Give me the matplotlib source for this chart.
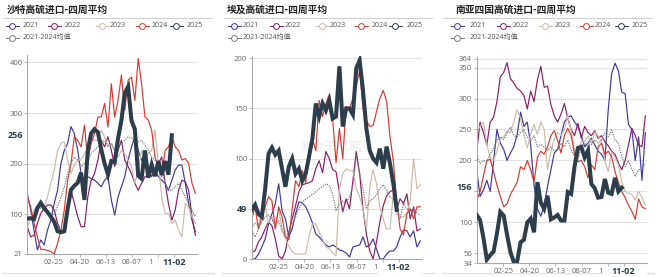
import numpy as np
import matplotlib
matplotlib.use("Agg")
import matplotlib.pyplot as plt
import matplotlib.transforms as mtrans
from matplotlib.patches import Rectangle

plt.rcParams["font.family"] = ["Open Sans", "Noto Sans CJK SC", "DejaVu Sans"]

W, H = 660, 277

# ── 数据 (周度, 第0周=1月初) ─────────────────────────────
series_names = ["2021", "2022", "2023", "2024", "2025", "2021-2024均值"]
tick_days = [55, 109, 163, 218, 273, 305]
tick_labels = ["02-25", "04-20", "06-13", "08-07", "10-01", "11-02"]

# 沙特
sa_2021 = [141, 108, 68, 29, 49, 39, 68, 88, 121, 147, 200, 226, 240, 273, 259, 226, 180, 167, 174, 170,
           167, 161, 154, 167, 174, 128, 98, 134, 154, 174, 207, 233, 253, 226, 207, 194, 180, 174, 187, 174,
           167, 161, 147, 167, 187, 197, 197, 161, 121, 88, 65]
sa_2022 = [75, 55, 58, 82, 101, 111, 118, 118, 108, 82, 65, 68, 111, 147, 121, 95, 75, 75, 134, 167,
           180, 207, 246, 233, 253, 226, 194, 226, 246, 207, 194, 180, 161, 147, 161, 174, 177, 177, 180, 200,
           213, 161, 121, 88, 108, 147, 167, 164, 147, 95, 58]
sa_2023 = [75, 91, 108, 114, 128, 114, 134, 161, 187, 226, 240, 243, 207, 180, 197, 207, 207, 220, 226, 253,
           246, 246, 266, 253, 233, 240, 226, 213, 226, 220, 207, 194, 161, 187, 226, 213, 220, 226, 266, 200,
           134, 101, 101, 82, 88, 68, 55, 121, 114, 95, 82]
sa_2024 = [134, 114, 82, 55, 30, 30, 28, 26, 21, 42, 68, 108, 167, 200, 253, 246, 233, 276, 207, 240,
           259, 292, 292, 319, 272, 358, 292, 325, 375, 305, 365, 371, 325, 408, 358, 292, 286, 266, 213, 193,
           174, 226, 233, 253, 233, 226, 207, 210, 200, 161, 141]
sa_2025 = [91, 92, 90, 112, 122, 112, 104, 95, 85, 66, 64, 66, 110, 148, 156, 162, 182, 128, 226, 260,
           268, 262, 228, 200, 178, 205, 203, 250, 285, 340, 352, 285, 268, 176, 170, 226, 172, 198, 175, 205,
           178, 205, 178, 256]
sa_mean = [95, 88, 96, 108, 112, 108, 102, 95, 100, 114, 134, 154, 180, 200, 213, 207, 194, 200, 207, 220,
           226, 233, 240, 246, 236, 240, 226, 233, 240, 246, 253, 250, 246, 243, 246, 236, 226, 213, 207, 200,
           187, 161, 147, 147, 154, 161, 147, 134, 121, 108, 95]

# 埃及
eg_2021 = [0, 0, 5, 12, 20, 35, 45, 55, 75, 48, 40, 22, 30, 45, 57, 56, 52, 45, 36, 25,
           22, 18, 14, 12, 14, 12, 9, 8, 6, 2, 12, 13, 14, 22, 12, 14, 20, 10, 0, 0,
           5, 8, 8, 12, 22, 29, 28, 22, 28, 12, 18]
eg_2022 = [7, 8, 17, 22, 30, 37, 33, 20, 3, 0, 8, 26, 40, 53, 67, 74, 75, 76, 78, 90,
           98, 86, 107, 100, 89, 87, 67, 47, 60, 50, 78, 107, 85, 50, 25, 8, 0, 17, 37, 53,
           63, 67, 69, 50, 60, 55, 65, 40, 52, 28, 30]
eg_2023 = [30, 36, 33, 48, 52, 36, 42, 30, 50, 30, 20, 13, 7, 5, 5, 5, 5, 22, 35, 35,
           27, 20, 12, 10, 6, 3, 70, 85, 90, 88, 88, 70, 62, 50, 30, 72, 89, 75, 52, 40,
           30, 30, 65, 52, 42, 42, 46, 58, 100, 70, 74]
eg_2024 = [39, 52, 30, 42, 52, 62, 58, 30, 52, 42, 22, 19, 50, 78, 72, 88, 76, 108, 120, 108,
           158, 142, 155, 164, 140, 96, 130, 100, 152, 150, 160, 172, 188, 150, 138, 132, 133, 147, 160, 168,
           157, 122, 97, 57, 30, 24, 45, 50, 40, 52, 52]
eg_2025 = [49, 54, 45, 42, 70, 105, 111, 104, 108, 90, 72, 92, 100, 85, 90, 78, 85, 102, 120, 155,
           142, 155, 148, 158, 140, 142, 192, 132, 150, 150, 144, 190, 198, 168, 130, 108, 100, 96, 110, 90,
           112, 95, 75, 49]
eg_mean = [28, 22, 30, 38, 42, 44, 40, 33, 38, 28, 22, 26, 33, 42, 50, 56, 60, 62, 64, 67,
           70, 72, 75, 73, 65, 48, 55, 58, 55, 62, 72, 103, 85, 70, 50, 58, 60, 64, 70, 74,
           68, 62, 60, 45, 40, 55, 50, 48, 50, 46, 43]

# 南亚四国
na_2021 = [185, 142, 152, 168, 150, 198, 250, 228, 218, 200, 212, 222, 242, 278, 255, 262, 225, 160, 122, 110,
           128, 158, 185, 212, 218, 240, 262, 270, 272, 262, 255, 240, 222, 228, 236, 225, 215, 210, 200, 282,
           340, 357, 345, 310, 308, 258, 250, 200, 238, 168, 245]
na_2022 = [215, 262, 245, 225, 262, 270, 295, 335, 342, 358, 332, 325, 316, 312, 305, 283, 312, 295, 330, 352,
           318, 320, 290, 272, 262, 275, 292, 268, 250, 240, 260, 236, 255, 245, 240, 248, 236, 240, 230, 224,
           215, 210, 196, 185, 200, 225, 252, 240, 225, 222, 272]
na_2023 = [246, 255, 262, 226, 205, 200, 215, 235, 238, 247, 245, 262, 282, 268, 242, 220, 242, 258, 242, 262,
           250, 185, 215, 235, 245, 240, 250, 272, 248, 218, 205, 232, 230, 240, 228, 246, 240, 230, 198, 182,
           214, 205, 193, 166, 150, 147, 145, 136, 150, 140, 128]
na_2024 = [135, 150, 175, 200, 202, 182, 160, 142, 125, 130, 145, 155, 165, 190, 185, 200, 185, 165, 205, 215,
           210, 222, 240, 248, 232, 212, 240, 252, 240, 210, 198, 200, 190, 172, 193, 185, 222, 228, 210, 215,
           206, 182, 165, 150, 140, 128, 118, 105, 138, 125, 122]
na_2025 = [112, 104, 75, 40, 47, 53, 82, 117, 111, 80, 52, 36, 37, 68, 72, 100, 106, 84, 165, 132,
           122, 143, 105, 108, 112, 103, 103, 149, 146, 190, 220, 222, 205, 216, 162, 155, 140, 141, 170, 148,
           146, 172, 150, 156]
na_mean = [206, 195, 200, 198, 210, 220, 232, 238, 234, 244, 254, 240, 238, 245, 249, 238, 232, 240, 222, 226,
           222, 216, 222, 216, 218, 228, 222, 233, 217, 206, 200, 222, 228, 222, 226, 233, 228, 233, 244, 238,
           249, 233, 228, 206, 190, 200, 186, 174, 185, 186, 196]

panels = [
    dict(title="沙特高硫进口-四周平均", data=[sa_2021, sa_2022, sa_2023, sa_2024, sa_2025, sa_mean],
         x0=0, title_x=7, leg_m=[12, 54, 102, 142, 176], leg_t=[23, 65, 110, 152, 187],
         box=(27.3, 196.7, 55.4, 254.0), ylim=(21, 414), yticks=[21, 100, 200, 300, 400],
         last="256"),
    dict(title="埃及高硫进口-四周平均", data=[eg_2021, eg_2022, eg_2023, eg_2024, eg_2025, eg_mean],
         x0=220, title_x=7, leg_m=[14, 56, 102, 141, 175], leg_t=[23, 65, 110, 152, 187],
         box=(251.7, 421.7, 56.3, 259.0), ylim=(0, 202), yticks=[0, 50, 100, 150, 200],
         last="49", watermark=True),
    dict(title="南亚四国高硫进口-四周平均", data=[na_2021, na_2022, na_2023, na_2024, na_2025, na_mean],
         x0=440, title_x=15, leg_m=[17, 63, 105, 146, 181], leg_t=[30, 73, 115, 155, 192],
         box=(476.7, 646.7, 57.0, 263.3), ylim=(34, 367),
         yticks=[34, 50, 100, 150, 200, 250, 300, 350, 364], last="156"),
]

colors = ["#3f379c", "#8c1d63", "#cbbcaa", "#d8392e", "#2c3e4b", "#7a7a7a"]
txt_gray = "#666666"

fig = plt.figure(figsize=(W / 100, H / 100), dpi=100)
bg = fig.add_axes([0, 0, 1, 1])
bg.set_xlim(0, W); bg.set_ylim(H, 0); bg.axis("off")

for p in panels:
    x0 = p["x0"]
    # 标题 + 分隔线 + 图例
    bg.text(x0 + p["title_x"], 9.5, p["title"], fontsize=7, fontweight="bold",
            family=["Noto Sans CJK SC", "DejaVu Sans"], color="#222222", va="center")
    bg.plot([x0 + 4, x0 + 212], [18, 18], color="#d0d0d0", lw=0.8)
    for i in range(5):
        mx = x0 + p["leg_m"][i]
        bg.plot([mx - 6.5, mx + 6.5], [25.5, 25.5], color=colors[i], lw=0.7)
        bg.plot([mx], [25.5], "o", ms=4.2, mfc="white", mec=colors[i], mew=0.7)
        bg.text(x0 + p["leg_t"][i], 25.5, series_names[i], fontsize=5, color="#555555", va="center")
    mx = x0 + p["leg_m"][0]
    bg.plot([mx - 6.5, mx + 6.5], [37.5, 37.5], color=colors[5], lw=0.7)
    bg.plot([mx], [37.5], "o", ms=4.2, mfc="white", mec=colors[5], mew=0.7)
    bg.text(x0 + p["leg_t"][0], 37.5, series_names[5], fontsize=5, color="#555555", va="center",
            family=["Open Sans", "Noto Sans CJK SC"])
    bg.plot([x0 + 2, x0 + 214], [273, 273], color="#e2e2e2", lw=1.0)

    # 绘图区
    l, r, t, b = p["box"]
    ax = fig.add_axes([l / W, 1 - b / H, (r - l) / W, (b - t) / H])
    hpx = b - t
    for i in [0, 1, 2, 3, 5, 4]:
        y = p["data"][i]
        xs = np.arange(len(y))
        if i == 5:
            ax.plot(xs, y, color=colors[i], lw=0.9, ls=(0, (1, 1)), zorder=3)
        elif i == 4:
            ax.plot(xs, y, color=colors[i], lw=2.9, zorder=4, solid_joinstyle="miter")
        else:
            ax.plot(xs, y, color=colors[i], lw=0.85, zorder=2)
    ax.set_xlim(0, 50.4)
    ax.set_ylim(*p["ylim"])
    ax.set_yticks(p["yticks"])
    ax.set_yticklabels([str(v) for v in p["yticks"]])
    ax.set_xticks([d / 7 for d in tick_days])
    ax.set_xticklabels(tick_labels[:-1] + [""])
    ax.grid(axis="y", color="#e3e3e3", lw=0.8)
    ax.set_axisbelow(True)
    for s in ["top", "right"]:
        ax.spines[s].set_visible(False)
    for s in ["left", "bottom"]:
        ax.spines[s].set_color("#aaaaaa")
        ax.spines[s].set_linewidth(0.8)
    ax.tick_params(axis="both", length=2, width=0.6, color="#aaaaaa", labelsize=5.5,
                   labelcolor=txt_gray, pad=1.3)

    if p.get("watermark"):
        ax.text(0.5, 0.55, "紫金天风期货", transform=ax.transAxes, ha="center", va="center",
                fontsize=9, color="#eeeeee", family=["Noto Sans CJK SC"], zorder=0.5)

    # 最新值 (加粗) 与当前日期
    ax.text(-0.025, float(p["last"]), p["last"], transform=mtrans.blended_transform_factory(ax.transAxes, ax.transData),
            ha="right", va="center", fontsize=6.5, fontweight="bold", color="#2c3e4b", zorder=8,
            bbox=dict(boxstyle="square,pad=0.15", fc="white", ec="none"))
    bt = mtrans.blended_transform_factory(ax.transData, ax.transAxes)
    ax.add_patch(Rectangle((37.35, -16 / hpx), 13.0, 12.5 / hpx, transform=bt, fc="white", ec="none",
                           clip_on=False, zorder=7))
    ax.text(tick_days[-1] / 7, -4.2 / hpx, tick_labels[-1], transform=bt, ha="center", va="top",
            fontsize=6.5, fontweight="bold", color="#2c3e4b", zorder=8)

fig.savefig("out.png", dpi=100)
